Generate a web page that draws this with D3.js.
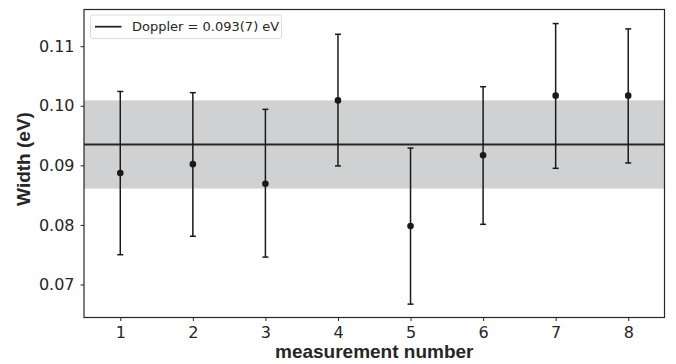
<!DOCTYPE html>
<html lang="en">
<head>
<meta charset="utf-8">
<title>Width vs measurement</title>
<script src="https://d3js.org/d3.v7.min.js"></script>
<style>
  body { margin: 0; background: #fff; }
</style>
</head>
<body>
<script type="text/javascript">

// measurement data
var measNum = [1, 2, 3, 4, 5, 6, 7, 8],
    widthVal = [0.0887, 0.0902, 0.0869, 0.1009, 0.0798, 0.0917, 0.1017, 0.1017],
    errLow = [0.0750, 0.0781, 0.0746, 0.0899, 0.0667, 0.0801, 0.0895, 0.0904],
    errHigh = [0.1024, 0.1022, 0.0994, 0.1120, 0.0929, 0.1032, 0.1138, 0.1129];

// doppler reference
var dopplerMean = 0.0935,
    dopplerLow = 0.0861,
    dopplerHigh = 0.1009,
    legendLabel = "Doppler = 0.093(7) eV";

var yTicks = [0.07, 0.08, 0.09, 0.10, 0.11];

//canvas
var width = 676,
    height = 364,
    margin = {top: 9.5, right: 11.5, bottom: 46.5, left: 84};

var svg = d3.select("body").append("svg")
    .attr("width", width)
    .attr("height", height);

var x = d3.scaleLinear()
    .domain([0.5, 8.5])
    .range([margin.left, width - margin.right]);

var y = d3.scaleLinear()
    .domain([0.06446, 0.11616])
    .range([height - margin.bottom, margin.top]);

var ink = "#1a1a1a";

// shaded band
svg.append("rect")
    .attr("x", x(0.5))
    .attr("width", x(8.5) - x(0.5))
    .attr("y", y(dopplerHigh))
    .attr("height", y(dopplerLow) - y(dopplerHigh))
    .style("fill", "#d0d1d3");

// mean line
svg.append("line")
    .attr("x1", x(0.5)).attr("x2", x(8.5))
    .attr("y1", y(dopplerMean)).attr("y2", y(dopplerMean))
    .style("stroke", "#262626")
    .style("stroke-width", 1.8);

// error bars
var pts = measNum.map(function(d, i){
    return {n: d, v: widthVal[i], lo: errLow[i], hi: errHigh[i]};
});

var eb = svg.append("g");
eb.selectAll(".stem").data(pts).enter().append("line")
    .attr("x1", function(d){ return x(d.n); })
    .attr("x2", function(d){ return x(d.n); })
    .attr("y1", function(d){ return y(d.lo); })
    .attr("y2", function(d){ return y(d.hi); })
    .style("stroke", ink).style("stroke-width", 1.5);

["lo", "hi"].forEach(function(k){
    eb.selectAll(".cap-" + k).data(pts).enter().append("line")
        .attr("x1", function(d){ return x(d.n) - 3; })
        .attr("x2", function(d){ return x(d.n) + 3; })
        .attr("y1", function(d){ return y(d[k]); })
        .attr("y2", function(d){ return y(d[k]); })
        .style("stroke", ink).style("stroke-width", 1.5);
});

eb.selectAll("circle").data(pts).enter().append("circle")
    .attr("cx", function(d){ return x(d.n); })
    .attr("cy", function(d){ return y(d.v); })
    .attr("r", 3.3)
    .style("fill", ink);

// axes
var xAxis = d3.axisBottom(x).tickValues(measNum).tickSize(3.5).tickPadding(6);
var yAxis = d3.axisLeft(y).tickValues(yTicks).tickSize(3.5).tickPadding(6)
    .tickFormat(d3.format(".2f"));

var gx = svg.append("g")
    .attr("transform", "translate(0," + (height - margin.bottom) + ")")
    .call(xAxis);
var gy = svg.append("g")
    .attr("transform", "translate(" + margin.left + ",0)")
    .call(yAxis);

[gx, gy].forEach(function(g){
    g.select(".domain").remove();
    g.selectAll(".tick line").style("stroke", "#262626").style("stroke-width", 1);
    g.selectAll(".tick text")
        .style("font-family", "DejaVu Sans")
        .style("font-size", "16px")
        .style("fill", "#262626");
});

// frame
svg.append("rect")
    .attr("x", x(0.5)).attr("y", y(0.11616))
    .attr("width", x(8.5) - x(0.5))
    .attr("height", y(0.06446) - y(0.11616))
    .style("fill", "none")
    .style("stroke", "#262626")
    .style("stroke-width", 1.2);

// axis titles
svg.append("text")
    .attr("x", (x(0.5) + x(8.5)) / 2)
    .attr("y", 358)
    .attr("text-anchor", "middle")
    .style("font-family", "Liberation Sans, Arial, sans-serif")
    .style("font-weight", "bold")
    .style("font-size", "19px")
    .style("fill", "#262626")
    .text("measurement number");

svg.append("text")
    .attr("transform", "translate(30," + 159 + ") rotate(-90)")
    .attr("text-anchor", "middle")
    .style("font-family", "Liberation Sans, Arial, sans-serif")
    .style("font-weight", "bold")
    .style("font-size", "19px")
    .style("fill", "#262626")
    .text("Width (eV)");

// legend
var lg = svg.append("g");
lg.append("rect")
    .attr("x", 90.5).attr("y", 15)
    .attr("width", 191).attr("height", 23.5)
    .attr("rx", 2.5)
    .style("fill", "#fff")
    .style("fill-opacity", 0.8)
    .style("stroke", "#dcdcdc")
    .style("stroke-width", 1);
lg.append("line")
    .attr("x1", 95).attr("x2", 121.5)
    .attr("y1", 26.7).attr("y2", 26.7)
    .style("stroke", "#262626").style("stroke-width", 1.8);
lg.append("text")
    .attr("x", 132).attr("y", 31.3)
    .style("font-family", "DejaVu Sans")
    .style("font-size", "13px")
    .style("fill", "#262626")
    .text(legendLabel);

</script>
</body>
</html>
